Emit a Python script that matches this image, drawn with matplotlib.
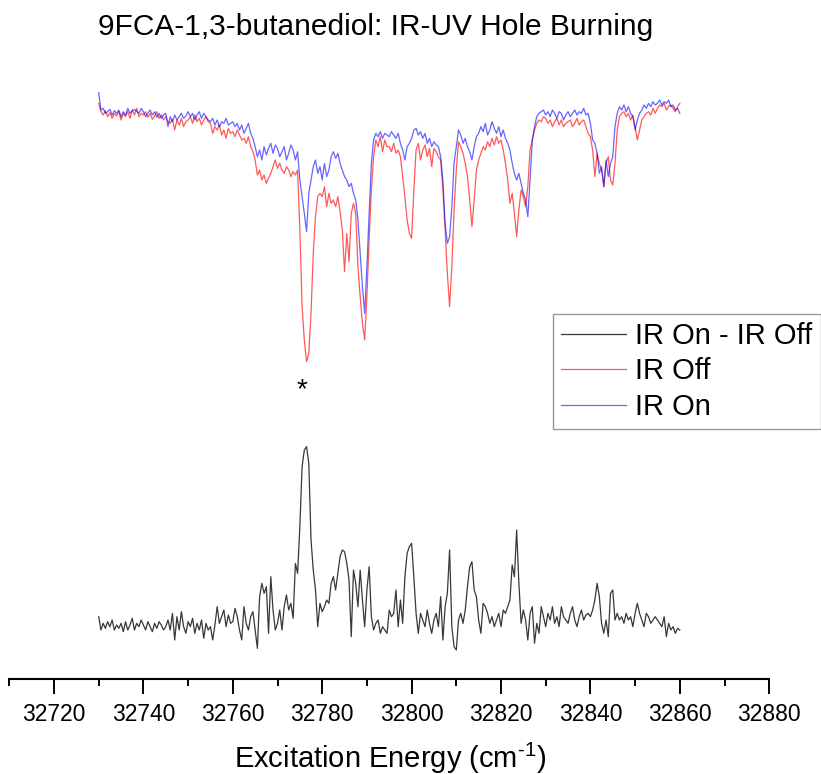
import numpy as np
import matplotlib
matplotlib.use("Agg")
import matplotlib.pyplot as plt
from matplotlib.ticker import MultipleLocator

plt.rcParams['font.family'] = ['Liberation Sans', 'DejaVu Sans']
plt.rcParams['mathtext.default'] = 'regular'
plt.rcParams['mathtext.fontset'] = 'custom'
plt.rcParams['mathtext.rm'] = 'Liberation Sans'

# ---- data (excitation energy grid, 0.5 cm-1 steps from 32730 to 32860) ----
energy_start = 32730.0
energy_stop = 32860.0

# IR Off trace (arb. units)
ir_off = [
    93.0, 90.5, 89.5, 90.8, 89.0, 90.2, 88.5, 90.0, 89.2, 90.5,
    88.0, 90.0, 89.0, 90.5, 88.5, 91.0, 89.5, 91.5, 89.0, 90.0,
    89.5, 90.5, 88.8, 90.0, 88.2, 89.2, 90.5, 88.5, 89.5, 88.0,
    89.0, 87.5, 87.0, 88.2, 85.0, 88.0, 86.5, 88.5, 86.0, 87.5,
    88.0, 89.0, 87.0, 89.5, 87.5, 88.5, 86.5, 88.0, 89.0, 87.5,
    87.0, 84.0, 86.0, 85.0, 86.5, 83.5, 85.0, 82.5, 85.5, 84.0,
    84.5, 83.0, 85.0, 83.5, 82.0, 82.5, 81.0, 83.0, 80.0, 78.5,
    76.0, 71.5, 73.0, 70.0, 71.5, 69.0, 70.5, 72.0, 74.0, 76.0,
    73.5, 75.0, 73.0, 72.0, 74.0, 73.0, 71.0, 72.5, 71.5, 73.0,
    55.0, 32.0, 22.0, 15.5, 18.0, 30.0, 48.0, 59.0, 65.0, 66.0,
    65.0, 68.0, 62.0, 66.0, 63.0, 64.0, 62.0, 65.0, 60.5, 55.0,
    42.5, 54.0, 45.5, 60.0, 63.0, 60.0, 44.0, 35.0, 27.0, 22.0,
    35.0, 52.0, 67.0, 77.0, 82.0, 80.0, 83.0, 78.5, 82.0, 80.0,
    80.0, 78.5, 81.0, 78.0, 79.0, 77.0, 71.0, 65.0, 58.0, 54.0,
    52.5, 67.0, 79.0, 81.0, 76.0, 79.0, 80.5, 77.0, 79.5, 74.0,
    79.5, 78.5, 77.0, 76.0, 67.0, 55.0, 42.0, 32.0, 44.0, 61.0,
    73.0, 81.5, 80.0, 78.0, 75.0, 71.0, 64.0, 56.0, 64.0, 73.0,
    76.0, 78.0, 80.0, 79.0, 81.5, 80.0, 82.5, 80.5, 83.0, 81.0,
    82.0, 79.0, 75.0, 70.0, 63.0, 66.0, 60.0, 53.0, 61.0, 67.0,
    65.0, 62.0, 68.0, 79.0, 82.0, 85.0, 87.0, 88.0, 87.5, 89.0,
    88.5, 87.0, 88.0, 86.0, 87.5, 88.5, 86.5, 88.0, 86.0, 87.0,
    87.5, 88.0, 86.0, 87.0, 88.5, 86.5, 87.5, 88.0, 86.0, 84.0,
    83.0, 79.0, 71.0, 78.0, 75.0, 73.0, 68.0, 75.0, 77.0, 70.0,
    68.5, 75.0, 85.0, 89.0, 90.0, 90.5, 89.0, 90.0, 88.0, 89.5,
    86.0, 82.0, 85.0, 88.0, 89.0, 90.0, 90.5, 89.5, 91.5, 90.0,
    91.5, 92.5, 92.0, 93.0, 91.0, 92.0, 92.5, 91.5, 90.5, 92.0,
    93.0,
]

# IR On trace (arb. units)
ir_on = [
    96.2, 91.0, 91.5, 90.0, 90.5, 91.2, 89.5, 90.8, 90.0, 91.0,
    89.0, 90.5, 89.5, 91.5, 90.0, 90.8, 91.2, 90.5, 90.0, 91.5,
    90.5, 89.0, 90.0, 91.0, 89.5, 90.5, 88.8, 90.0, 88.5, 89.5,
    90.0, 86.0, 89.0, 87.5, 89.5, 88.0, 89.0, 90.0, 88.5, 89.2,
    90.5, 89.0, 90.0, 88.0, 89.5, 90.5, 88.5, 90.0, 89.0, 88.0,
    87.5, 88.5, 86.5, 88.0, 86.0, 87.5, 87.0, 88.5, 86.5, 87.0,
    87.5, 86.0, 87.0, 85.0, 86.5, 84.0, 85.5, 87.0, 84.0, 82.5,
    80.0, 77.0, 79.0, 76.0, 80.0, 77.5, 79.5, 81.0, 78.0, 80.5,
    79.5, 77.0, 78.5, 80.0, 76.0, 78.0, 80.5, 79.0, 76.0, 78.5,
    70.0, 65.0, 60.0, 54.5, 66.0, 70.0, 74.0, 76.0, 72.0, 74.0,
    70.0, 75.0, 71.0, 73.0, 77.0, 78.5, 76.5, 78.0, 75.0, 73.0,
    71.0, 70.0, 68.0, 69.0, 66.0, 64.0, 58.0, 48.0, 38.0, 30.0,
    44.0, 60.0, 75.0, 82.0, 84.0, 83.0, 84.5, 82.5, 84.0, 83.5,
    83.0, 84.5, 83.5, 82.5, 84.0, 81.0, 79.0, 76.0, 80.0, 81.0,
    82.5, 85.0, 85.5, 83.5, 84.5, 82.5, 84.0, 81.0, 82.5, 80.0,
    81.5, 80.5, 80.0, 77.0, 70.0, 57.0, 51.0, 53.0, 62.0, 75.0,
    80.0, 85.0, 83.5, 81.0, 82.5, 80.0, 78.5, 76.0, 80.0, 83.0,
    84.0, 86.0, 84.5, 87.0, 83.5, 85.0, 87.5, 85.5, 84.0, 86.0,
    83.0, 85.0, 82.5, 81.0, 79.0, 75.0, 72.0, 70.0, 72.0, 69.0,
    66.0, 64.0, 59.0, 70.0, 82.0, 86.0, 89.0, 90.0, 90.5, 91.0,
    89.5, 90.5, 89.0, 91.0, 90.0, 88.5, 90.5, 90.0, 88.0, 89.5,
    90.5, 89.0, 90.0, 91.0, 89.5, 90.5, 90.0, 91.5, 89.5, 90.0,
    87.0, 82.0, 81.0, 78.0, 72.0, 74.0, 68.0, 76.0, 71.0, 75.0,
    77.0, 86.0, 90.0, 92.0, 91.0, 92.5, 90.5, 92.0, 90.0, 89.0,
    85.0, 88.0, 90.0, 91.0, 92.5, 91.5, 93.0, 92.0, 93.5, 92.5,
    93.0, 94.0, 92.5, 93.5, 93.0, 94.0, 92.0, 92.5, 91.0, 91.5,
    90.0,
]

# IR On - IR Off difference trace (arb. units)
ir_diff = [
    14.0, 10.0, 12.0, 10.5, 12.5, 11.0, 13.0, 10.0, 11.5, 10.5,
    12.0, 9.5, 12.5, 10.0, 11.5, 13.5, 10.0, 12.0, 11.0, 13.0,
    11.5, 10.0, 12.5, 11.0, 9.5, 12.0, 10.5, 12.5, 11.5, 10.0,
    11.0, 13.0, 10.0, 15.0, 7.0, 14.0, 10.0, 15.5, 11.0, 9.0,
    12.5, 11.0, 13.5, 9.0, 12.0, 10.0, 13.0, 7.5, 12.0, 10.0,
    11.0, 7.0, 11.5, 17.0, 12.0, 14.0, 16.0, 11.0, 14.5, 12.0,
    12.5, 16.5, 14.0, 10.0, 7.0, 17.0, 12.0, 10.0, 14.0, 15.5,
    10.0, 4.5, 20.0, 24.0, 21.0, 23.0, 9.0, 26.0, 16.0, 10.0,
    12.0, 16.0, 10.0, 17.0, 20.5, 16.0, 18.0, 13.5, 30.0, 27.0,
    41.0, 59.0, 64.0, 65.0, 60.0, 37.0, 28.0, 22.0, 11.0, 18.0,
    15.5, 17.0, 19.0, 18.0, 24.0, 26.0, 22.0, 27.0, 32.0, 34.0,
    33.5, 30.0, 25.0, 8.0, 28.0, 24.0, 17.0, 28.0, 19.0, 11.0,
    22.0, 29.0, 14.0, 10.0, 12.0, 13.0, 9.0, 11.0, 10.0, 9.0,
    16.0, 14.0, 15.0, 22.0, 11.0, 19.0, 12.0, 26.0, 33.0, 35.0,
    36.0, 26.0, 15.0, 9.0, 15.0, 13.0, 11.0, 16.0, 12.0, 9.0,
    13.0, 15.0, 11.0, 20.0, 7.0, 17.0, 21.0, 34.0, 11.0, 5.0,
    4.0, 13.0, 15.0, 12.0, 16.0, 23.0, 29.0, 30.5, 22.0, 20.0,
    13.0, 9.0, 18.0, 17.0, 15.0, 12.0, 14.0, 11.0, 13.0, 15.0,
    11.0, 16.0, 15.0, 17.0, 19.0, 29.5, 26.0, 40.0, 24.0, 12.0,
    16.0, 13.0, 7.0, 15.0, 17.0, 6.0, 12.0, 9.0, 17.0, 14.0,
    11.0, 15.0, 13.0, 17.0, 12.0, 14.0, 11.0, 17.0, 14.0, 13.0,
    12.0, 15.0, 17.0, 13.0, 11.0, 14.0, 16.0, 13.0, 14.5, 15.0,
    14.0, 16.0, 19.0, 24.0, 20.0, 12.0, 9.0, 13.0, 8.0, 21.0,
    22.0, 13.0, 15.0, 13.0, 14.0, 12.0, 15.0, 13.0, 14.0, 11.0,
    15.0, 18.0, 15.0, 13.0, 11.0, 15.0, 14.0, 12.0, 13.0, 14.0,
    13.0, 12.0, 11.0, 14.0, 8.0, 12.0, 10.0, 11.0, 9.0, 10.5,
    10.0,
]

xtick_values = [32720, 32740, 32760, 32780, 32800, 32820, 32840, 32860, 32880]
legend_labels = ["IR On - IR Off", "IR Off", "IR On"]
title_text = "9FCA-1,3-butanediol: IR-UV Hole Burning"
xlabel_text = r"Excitation Energy (cm$^{\text{-1}}$)"
star_position = 32775.4

# ---- figure ----
W, H = 821, 774
fig = plt.figure(figsize=(W / 100, H / 100), dpi=100)

ax_left_px, ax_right_px = 9.3, 769.2
ax_bottom_px, ax_top_px = 679.0, 60.0
ax = fig.add_axes([ax_left_px / W, 1 - ax_bottom_px / H,
                   (ax_right_px - ax_left_px) / W, (ax_bottom_px - ax_top_px) / H])

energy = np.linspace(energy_start, energy_stop, len(ir_off))
top_offset = 75.0

l_off, = ax.plot(energy, np.array(ir_off) + top_offset, color=(1, 0, 0), lw=0.9, alpha=0.65)
l_on, = ax.plot(energy, np.array(ir_on) + top_offset, color=(0, 0, 1), lw=0.9, alpha=0.6)
l_diff, = ax.plot(energy, ir_diff, color='#383838', lw=0.9)

ax.set_xlim(32710, 32880)
ax.set_ylim(-4.7, 181)

for s in ['left', 'right', 'top']:
    ax.spines[s].set_visible(False)
ax.spines['bottom'].set_linewidth(1.5)
ax.set_yticks([])
ax.set_xticks(xtick_values)
ax.xaxis.set_minor_locator(MultipleLocator(10))
ax.tick_params(axis='x', which='major', direction='out', length=11, width=1.4,
               labelsize=16.5, pad=6, colors='black')
ax.tick_params(axis='x', which='minor', direction='out', length=5, width=1.4)
ax.patch.set_alpha(0)

ax.text(star_position, 82, '*', ha='center', va='center', fontsize=20, color='black')

leg = ax.legend([l_diff, l_off, l_on], legend_labels, loc='upper left',
                bbox_to_anchor=(552.7 / W, 1 - 314 / H), bbox_transform=fig.transFigure,
                borderaxespad=0, fontsize=21, handlelength=2.25, handletextpad=0.3,
                labelspacing=0.25, borderpad=0.28, frameon=True, fancybox=False)
leg.get_frame().set_edgecolor('#808080')
leg.get_frame().set_linewidth(1.0)

fig.text(98 / W, 1 - 27 / H, title_text, ha='left', va='center', fontsize=21.5)
fig.text(390.5 / W, 1 - 758 / H, xlabel_text, ha='center', va='center', fontsize=21)

fig.savefig('out.png', dpi=100)
